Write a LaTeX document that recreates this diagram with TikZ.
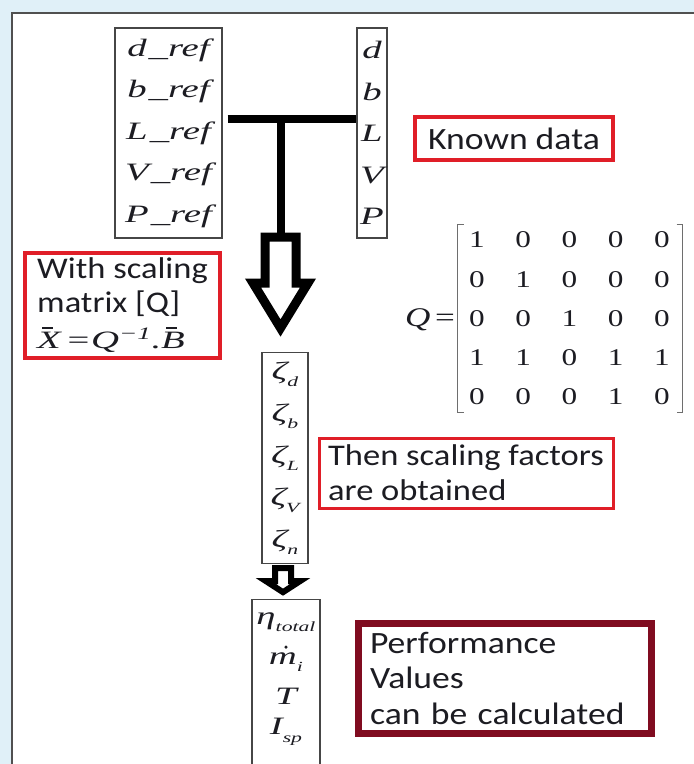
\documentclass[tikz,border=0pt]{standalone}
\usepackage{fontspec}
\usetikzlibrary{matrix,calc}
\setmainfont{Liberation Serif}
\newfontfamily\sansf[FakeStretch=1.15]{Carlito}
\newfontfamily\serf[FakeStretch=1.55]{Liberation Serif}
\newfontfamily\serm[FakeStretch=1.3]{Liberation Serif}
\definecolor{bgblue}{RGB}{224,240,248}
\definecolor{framegray}{RGB}{80,80,80}
\definecolor{boxgray}{RGB}{70,70,70}
\definecolor{brgray}{RGB}{110,110,110}
\definecolor{boxred}{RGB}{224,30,40}
\definecolor{darkred}{RGB}{128,12,32}
\definecolor{txt}{RGB}{28,28,34}
\newcommand\lowsub[1]{\raisebox{-0.3em}{\fontsize{14}{14}\selectfont #1}}
\newcommand\barred[1]{\leavevmode\rlap{\raisebox{0.8em}{\kern0.2em\rule{0.42em}{0.06em}}}#1}
\tikzset{
  varbox/.style={draw=boxgray, line width=1.3pt, fill=white, inner sep=0pt, align=center, text=txt,
    font=\serf\itshape\fontsize{25}{41.5}\selectfont},
  vartext/.style={inner sep=0pt, text=txt, font=\serf\itshape\fontsize{25}{30}\selectfont},
  notebox/.style={draw=boxred, line width=3.5pt, inner sep=0pt, align=left, text=txt,
    font=\sansf\fontsize{30}{34}\selectfont},
  tbar/.style={line width=8pt, draw=black},
  hollow/.style={draw=black, fill=white, line join=miter},
  bracket/.style={draw=brgray, line width=1.5pt}
}
\begin{document}
\begin{tikzpicture}[x=1pt,y=-1pt]
\useasboundingbox (0,0) rectangle (694,764);
\clip (0,0) rectangle (694,764);
\fill[bgblue] (0,0) rectangle (694,764);
\draw[framegray, line width=2.5pt, fill=white] (12,13) rectangle (720,800);

% input boxes
\node[varbox, minimum width=107pt, minimum height=210pt] (lbox) at (168.5,133)
  {d\kern2pt\_ref\\b\kern2pt\_ref\\L\kern2pt\_ref\\V\kern2pt\_ref\\P\kern2pt\_ref};
\node[varbox, minimum width=30pt, minimum height=210pt] (rbox) at (372,133)
  {d\\b\\L\\V\\P};

% T connector
\coordinate (tj) at (280.5,119);
\coordinate (atop) at (280.5,237);
\draw[tbar] ([xshift=5pt]lbox.east |- tj) -- (rbox.west |- tj);
\draw[tbar] (tj) -- (atop);
\draw[hollow, line width=9pt] (atop) ++(-15.5,0) -- ++(31,0) -- ++(0,46) -- ++(12,0)
  -- ++(-27.5,45) -- ++(-27.5,-45) -- ++(12,0) -- cycle;

% scaling factors
\node[varbox, minimum width=46pt, minimum height=211pt, font=\serf\itshape\fontsize{25}{42}\selectfont] (zeta) at (285,458)
  {ζ\lowsub{d}\\ζ\lowsub{b}\\ζ\lowsub{L}\\ζ\lowsub{V}\\ζ\lowsub{n}};

\coordinate (btop) at ([xshift=-2pt,yshift=-4pt]zeta.south);
\draw[hollow, line width=6pt] (btop) ++(-8,0) -- ++(16,0) -- ++(0,13) -- ++(9,0)
  -- ++(-17,11) -- ++(-17,-11) -- ++(9,0) -- cycle;

% performance values box
\node[varbox, minimum width=68pt, minimum height=200pt, anchor=north] (eta) at (286,599) {};
\node[vartext] (e1) at (286,622) {η\lowsub{total}};
\node[vartext] (e2) at (286,662) {m\lowsub{i}};
\fill[txt] ([xshift=0pt,yshift=5pt]e2.north) circle (1.7pt);
\node[vartext] (e3) at (286,696) {T};
\node[vartext] (e4) at (286,732) {I\lowsub{sp}};

% notes
\node[notebox, line width=4pt, minimum width=198pt, minimum height=43pt,
  font=\sansf\fontsize{31}{34}\selectfont] (known) at (514,138.5) {Known data};
\node[notebox, minimum width=195pt, minimum height=105pt] (scal) at (122.5,305.5)
  {With scaling\\matrix [Q]\\[2pt]{\serf\itshape\fontsize{25}{30}\selectfont \barred{X}\,=Q\textsuperscript{−1}.\barred{B}}};
\node[notebox, line width=3pt, minimum width=294pt, minimum height=70pt,
  font=\sansf\fontsize{30}{35}\selectfont] (then) at (466,473) {Then scaling factors\\are obtained};
\node[notebox, draw=darkred, line width=7pt, minimum width=293pt, minimum height=110pt, text width=269pt,
  font=\sansf\fontsize{31}{35.5}\selectfont] (perf) at (504.5,678) {Performance\\Values\\can be calculated};

% matrix Q
\node[inner sep=0pt, text=txt, font=\serm\fontsize{27}{30}\selectfont] (qlab) at (430,320) {\textit{Q}\,=};
\matrix (Q) [matrix of nodes, inner sep=0pt, column sep=0pt, row sep=0pt,
  nodes={inner sep=0pt, minimum width=46.25pt, minimum height=39.25pt, text=txt,
  font=\serm\fontsize{24}{24}\selectfont, anchor=center}] at (569.5,318.5) {
1 & 0 & 0 & 0 & 0\\
0 & 1 & 0 & 0 & 0\\
0 & 0 & 1 & 0 & 0\\
1 & 1 & 0 & 1 & 1\\
0 & 0 & 0 & 1 & 0\\
};
\draw[bracket] ($(Q.north west)+(10,4.5)$) -- ++(-6,0) -- ($(Q.south west)+(4,-4.5)$) -- ++(6,0);
\draw[bracket] ($(Q.north east)+(-8.6,4.5)$) -- ++(6,0) -- ($(Q.south east)+(-2.6,-4.5)$) -- ++(-6,0);
\end{tikzpicture}
\end{document}
